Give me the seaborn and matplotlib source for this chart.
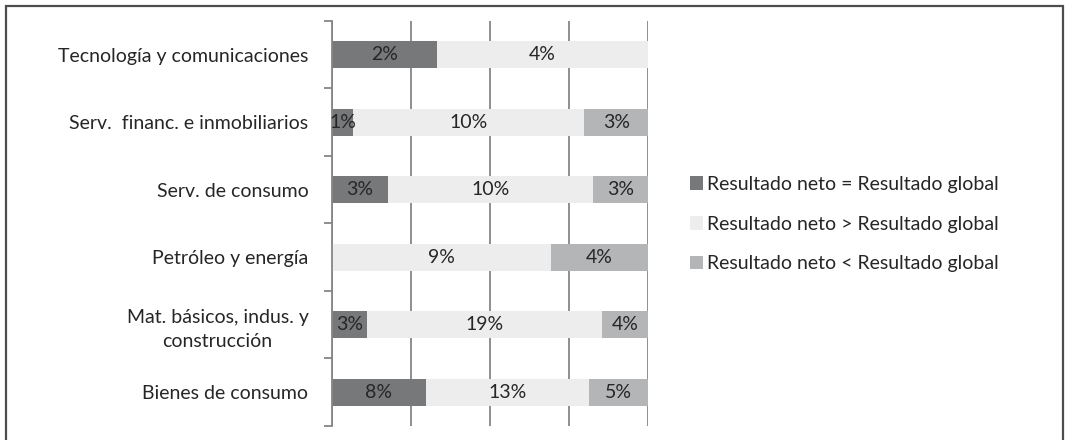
import matplotlib
matplotlib.use("Agg")
import matplotlib.pyplot as plt
import seaborn as sns
import numpy as np
import pandas as pd
from matplotlib.patches import Rectangle, Patch

categories = ["Tecnología y comunicaciones", "Serv.  financ. e inmobiliarios",
              "Serv. de consumo", "Petróleo y energía",
              "Mat. básicos, indus. y\nconstrucción", "Bienes de consumo"]
igual = [2.0, 0.9, 2.75, 0.0, 2.9, 7.7]      # Resultado neto = Resultado global
mayor = [4.0, 10.0, 10.0, 9.0, 19.4, 13.4]   # Resultado neto > Resultado global
menor = [0.0, 2.75, 2.7, 4.0, 3.8, 4.8]      # Resultado neto < Resultado global
series_names = ["Resultado neto = Resultado global",
                "Resultado neto > Resultado global",
                "Resultado neto < Resultado global"]
colors = ["#76787a", "#ededed", "#b3b5b6"]

sns.set_theme(style="white")
plt.rcParams['font.family'] = ['Lato', 'DejaVu Sans']
FS = 14
TXT = "#262626"

df = pd.DataFrame({"cat": categories, "igual": igual, "mayor": mayor, "menor": menor})
tot = df[["igual", "mayor", "menor"]].sum(axis=1)
df["p1"] = df["igual"] / tot
df["p2"] = (df["igual"] + df["mayor"]) / tot
df["p3"] = (df["igual"] + df["mayor"] + df["menor"]) / tot

fig = plt.figure(figsize=(10.65, 4.4), dpi=100)
ax = fig.add_axes([332/1065, 1-426/440, 316/1065, 405/440])

sns.barplot(data=df, y="cat", x="p3", color=colors[2], width=0.4, ax=ax,
            saturation=1, linewidth=0, orient="h")
sns.barplot(data=df, y="cat", x="p2", color=colors[1], width=0.4, ax=ax,
            saturation=1, linewidth=0, orient="h")
sns.barplot(data=df, y="cat", x="p1", color=colors[0], width=0.4, ax=ax,
            saturation=1, linewidth=0, orient="h")

for i, row in df.iterrows():
    starts = [0, row.p1, row.p2]
    ends = [row.p1, row.p2, row.p3]
    vals = [row.igual, row.mayor, row.menor]
    for s, e, v in zip(starts, ends, vals):
        if v > 0:
            ax.text((s + e) / 2, i, f"{v:.0f}%", ha="center", va="center",
                    fontsize=FS, color=TXT)

ax.set_xlim(0, 1)
ax.set_ylim(len(categories) - 0.5, -0.5)
ax.set_xlabel("")
ax.set_ylabel("")
ax.set_xticks([0, 0.25, 0.5, 0.75, 1.0])
ax.set_xticklabels([])
ax.tick_params(axis="x", length=0)
ax.grid(axis="x", color="#868686", linewidth=1.3)
ax.set_axisbelow(True)
for s in ["top", "right", "bottom"]:
    ax.spines[s].set_visible(False)
ax.spines["left"].set_color("#868686")
ax.spines["left"].set_linewidth(1.3)

ax.set_yticks(range(len(categories)))
ax.set_yticklabels(categories, fontsize=FS, color=TXT, linespacing=1.45,
                   multialignment="center")
ax.set_yticks(np.arange(-0.5, len(categories), 1), minor=True)
ax.tick_params(axis="y", which="major", length=0, pad=17)
ax.tick_params(axis="y", which="minor", length=6, width=1.3, color="#868686", left=True)

handles = [Patch(facecolor=c, edgecolor="none") for c in colors]
leg = fig.legend(handles, series_names, loc="upper left",
                 bbox_to_anchor=(682/1065, 1-168/440), frameon=False,
                 fontsize=FS, labelcolor=TXT, handlelength=0.7, handleheight=0.7,
                 handletextpad=0.2, labelspacing=1.17, borderaxespad=0)

fig.patches.append(Rectangle((5.5/1065, -0.1), (1063-5.5)/1065, 1.1 - 6.5/440,
                             transform=fig.transFigure, fill=False,
                             edgecolor="#4d4d4d", linewidth=1.6))

fig.savefig("out.png", dpi=100)
